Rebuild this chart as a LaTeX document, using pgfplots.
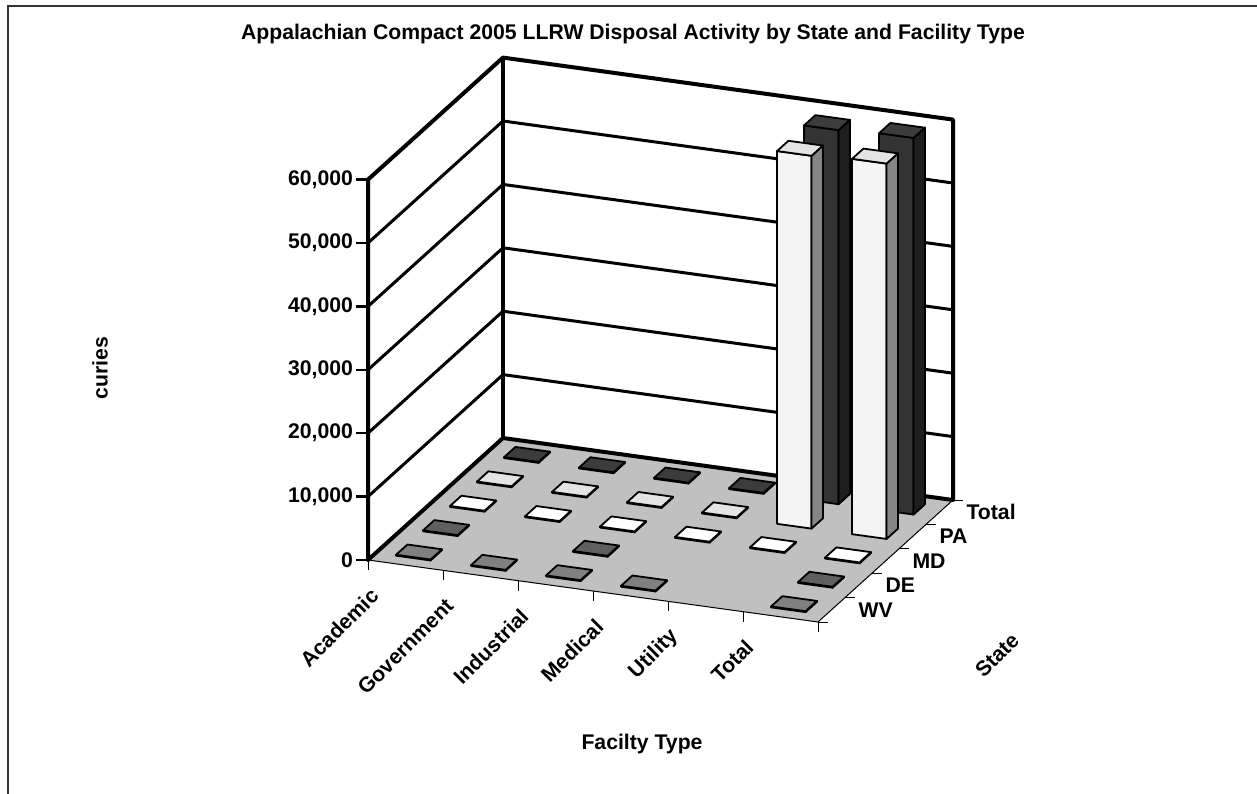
\documentclass[border=0pt]{standalone}
\usepackage{fontspec}
\setmainfont{Liberation Sans}
\usepackage{pgfplots}
\pgfplotsset{compat=1.18}
\definecolor{floorgray}{HTML}{C0C0C0}
\definecolor{WVf}{HTML}{777777}\definecolor{WVs}{HTML}{555555}\definecolor{WVt}{HTML}{808080}
\definecolor{DEf}{HTML}{555555}\definecolor{DEs}{HTML}{3A3A3A}\definecolor{DEt}{HTML}{5F5F5F}
\definecolor{MDf}{HTML}{F2F2F2}\definecolor{MDs}{HTML}{8A8A8A}\definecolor{MDt}{HTML}{FFFFFF}
\definecolor{PAf}{HTML}{F4F4F4}\definecolor{PAs}{HTML}{858585}\definecolor{PAt}{HTML}{E4E4E4}
\definecolor{TOTf}{HTML}{333333}\definecolor{TOTs}{HTML}{1E1E1E}\definecolor{TOTt}{HTML}{3C3C3C}
% #1 facility index (0..5), #2 state index (0..4), #3 curies, #4 colour prefix
\newcommand{\cuboid}[4]{%
  \pgfmathsetmacro\cxa{#1+0.27}%
  \pgfmathsetmacro\cxb{#1+0.73}%
  \pgfmathsetmacro\cya{#2+0.29}%
  \pgfmathsetmacro\cyb{#2+0.71}%
  \edef\cubtmp{%
    \noexpand\addplot3[draw=black,line width=0.9pt,line join=round,fill=#4f] coordinates {(\cxa,\cya,0) (\cxb,\cya,0) (\cxb,\cya,#3) (\cxa,\cya,#3)} -- cycle;%
    \noexpand\addplot3[draw=black,line width=0.9pt,line join=round,fill=#4s] coordinates {(\cxb,\cya,0) (\cxb,\cyb,0) (\cxb,\cyb,#3) (\cxb,\cya,#3)} -- cycle;%
    \noexpand\addplot3[draw=black,line width=0.9pt,line join=round,fill=#4t] coordinates {(\cxa,\cya,#3) (\cxb,\cya,#3) (\cxb,\cyb,#3) (\cxa,\cyb,#3)} -- cycle;%
  }\cubtmp}
\begin{document}
\begin{tikzpicture}
\useasboundingbox (0,0) rectangle (628.5pt,396.5pt);
\draw[line width=0.8pt, black!80] (4pt,-2pt) -- (4pt,393.5pt) -- (630pt,393.5pt);
\begin{axis}[
  at={(184pt,116.5pt)}, anchor=origin,
  x={(37.5pt,-5.1667pt)}, y={(13.5pt,12.2pt)}, z={(0pt,0.0031667pt)},
  xmin=0, xmax=6, ymin=0, ymax=5, zmin=0, zmax=60000,
  clip=false,
  axis line style={draw=none},
  major tick length=0pt,
  xtick={0.5,1.5,2.5,3.5,4.5,5.5},
  xticklabels={Academic,Government,Industrial,Medical,Utility,Total},
  ytick={0.5,1.5,2.5,3.5,4.5},
  yticklabels={WV,DE,MD,PA,Total},
  ztick={0,10000,20000,30000,40000,50000,60000},
  scaled z ticks=false,
  /pgf/number format/fixed,
  /pgf/number format/1000 sep={,},
  /pgf/number format/assume math mode=true,
  tick label style={font=\fontsize{10.6}{12}\selectfont\bfseries},
  xticklabel style={xshift=-13pt, yshift=-11pt, rotate=45, anchor=east},
  yticklabel style={xshift=10pt, anchor=west},
  zticklabel style={xshift=-4pt, anchor=east},
]
% floor
\fill[floorgray] (axis cs:0,0,0) -- (axis cs:6,0,0) -- (axis cs:6,5,0) -- (axis cs:0,5,0) -- cycle;
\draw[line width=0.5pt] (axis cs:0,0,0) -- (axis cs:6,0,0) -- (axis cs:6,5,0);
% gridlines on walls
\pgfplotsinvokeforeach{10000,20000,30000,40000,50000}{%
  \draw[line width=1.5pt] (axis cs:0,0,#1) -- (axis cs:0,5,#1) -- (axis cs:6,5,#1);}
% wall outlines
\draw[line width=2pt, line join=round, line cap=round]
  (axis cs:0,0,0) -- (axis cs:0,0,60000) -- (axis cs:0,5,60000) -- (axis cs:6,5,60000) -- (axis cs:6,5,0) -- (axis cs:0,5,0) -- cycle;
\draw[line width=2pt] (axis cs:0,5,0) -- (axis cs:0,5,60000);
% ticks
\pgfplotsinvokeforeach{0,10000,20000,30000,40000,50000,60000}{%
  \draw[line width=1.2pt] (axis cs:0,0,#1) -- ++(-6pt,0);}
\pgfplotsinvokeforeach{0,1,2,3,4,5,6}{%
  \draw[line width=0.5pt] (axis cs:#1,0,0) -- ++(0,-5pt);}
\pgfplotsinvokeforeach{0,1,2,3,4,5}{%
  \draw[line width=0.5pt] (axis cs:6,#1,0) -- ++(5pt,0);}
% bars: back row first
% Total
\cuboid{0}{4}{150}{TOT}
\cuboid{1}{4}{150}{TOT}
\cuboid{2}{4}{150}{TOT}
\cuboid{3}{4}{150}{TOT}
\cuboid{4}{4}{59000}{TOT}
\cuboid{5}{4}{59400}{TOT}
% PA
\cuboid{0}{3}{150}{PA}
\cuboid{1}{3}{150}{PA}
\cuboid{2}{3}{150}{PA}
\cuboid{3}{3}{150}{PA}
\cuboid{4}{3}{58800}{PA}
\cuboid{5}{3}{59200}{PA}
% MD
\cuboid{0}{2}{150}{MD}
\cuboid{1}{2}{150}{MD}
\cuboid{2}{2}{150}{MD}
\cuboid{3}{2}{150}{MD}
\cuboid{4}{2}{150}{MD}
\cuboid{5}{2}{150}{MD}
% DE
\cuboid{0}{1}{150}{DE}
\cuboid{2}{1}{150}{DE}
\cuboid{5}{1}{150}{DE}
% WV
\cuboid{0}{0}{150}{WV}
\cuboid{1}{0}{150}{WV}
\cuboid{2}{0}{150}{WV}
\cuboid{3}{0}{150}{WV}
\cuboid{5}{0}{150}{WV}
\end{axis}
\node[font=\fontsize{10.6}{12}\selectfont\bfseries] at (316.5pt,379.5pt) {Appalachian Compact 2005 LLRW Disposal Activity by State and Facility Type};
\node[font=\fontsize{10.6}{12}\selectfont\bfseries, rotate=90] at (50pt,212.5pt) {curies};
\node[font=\fontsize{10.6}{12}\selectfont\bfseries] at (321pt,24.5pt) {Facilty Type};
\node[font=\fontsize{10.6}{12}\selectfont\bfseries, rotate=45] at (498.5pt,69pt) {State};
\end{tikzpicture}
\end{document}
